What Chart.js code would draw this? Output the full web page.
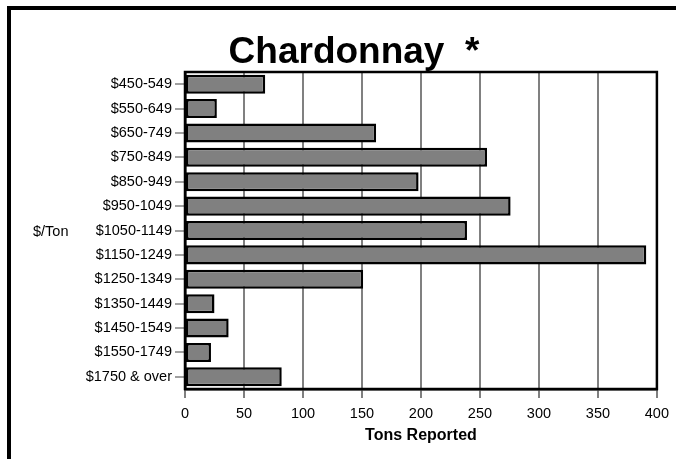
<!DOCTYPE html>
<html>
<head>
<meta charset="utf-8">
<script src="https://cdn.jsdelivr.net/npm/chart.js@4.4.1/dist/chart.umd.min.js"></script>
<style>
  html, body { margin: 0; padding: 0; background: #fff; overflow: hidden; }
  #frame { position: absolute; left: 7px; top: 6px; width: 800px; height: 600px;
           border-left: 4px solid #000; border-top: 4px solid #000; }
  #wrap { position: absolute; left: 0; top: 0; width: 676px; height: 459px; }
</style>
</head>
<body>
<div id="frame"></div>
<div id="wrap"><canvas id="c" width="676" height="459"></canvas></div>
<script>
const chartTitle = "Chardonnay  *";
const yAxisTitle = "$/Ton";
const xAxisTitle = "Tons Reported";
const categories = ["$450-549", "$550-649", "$650-749", "$750-849", "$850-949", "$950-1049",
  "$1050-1149", "$1150-1249", "$1250-1349", "$1350-1449", "$1450-1549", "$1550-1749", "$1750 & over"];
const tonsReported = [68, 27, 162, 256, 198, 276, 239, 391, 151, 25, 37, 22, 82];
const xTicks = [0, 50, 100, 150, 200, 250, 300, 350, 400];

const FONT = "'Liberation Sans', Arial, sans-serif";

const decor = {
  id: 'decor',
  afterDatasetsDraw(chart) {
    const {ctx, chartArea: a} = chart;
    ctx.save();
    ctx.strokeStyle = '#000';
    ctx.lineWidth = 2.5;
    ctx.strokeRect(a.left, a.top, a.right - a.left, a.bottom - a.top);
    ctx.restore();
  },
  afterDraw(chart) {
    const {ctx, chartArea: a} = chart;
    ctx.save();
    ctx.fillStyle = '#000';
    ctx.font = "bold 37px " + FONT;
    ctx.textAlign = 'center';
    ctx.textBaseline = 'alphabetic';
    ctx.fillText(chartTitle, 354, 62.5);
    ctx.font = "14.5px " + FONT;
    ctx.textAlign = 'left';
    ctx.textBaseline = 'middle';
    ctx.fillText(yAxisTitle, 33, (a.top + a.bottom) / 2 + 1);
    ctx.restore();
  }
};

new Chart(document.getElementById('c'), {
  type: 'bar',
  data: {
    labels: categories,
    datasets: [{
      data: tonsReported,
      backgroundColor: '#808080',
      borderColor: '#000',
      borderWidth: 2.5,
      borderSkipped: false,
      categoryPercentage: 1.0,
      barPercentage: 0.78
    }]
  },
  options: {
    indexAxis: 'y',
    responsive: false,
    animation: false,
    layout: { padding: { top: 72, right: 19, left: 0, bottom: 0 } },
    plugins: { legend: { display: false }, tooltip: { enabled: false }, title: { display: false } },
    scales: {
      x: {
        type: 'linear',
        min: 0, max: 400,
        afterBuildTicks(scale) { scale.ticks = xTicks.map(v => ({value: v})); },
        afterFit(scale) { scale.height = 70; },
        grid: { color: '#808080', lineWidth: 2, tickLength: 9, drawTicks: true },
        border: { color: '#000', width: 2.5 },
        ticks: { color: '#000', font: { family: FONT, size: 14.5 }, padding: 7, maxRotation: 0 },
        title: { display: true, text: xAxisTitle, color: '#000',
                 font: { family: FONT, size: 16, weight: 'bold' }, padding: { top: 2, bottom: 14 } }
      },
      y: {
        type: 'category',
        afterFit(scale) { scale.width = 185; },
        grid: { display: true, drawOnChartArea: false, color: '#a0a0a0', lineWidth: 2, tickLength: 10, offset: false },
        border: { color: '#000', width: 2.5 },
        ticks: { color: '#000', font: { family: FONT, size: 14.5 }, padding: 3, autoSkip: false }
      }
    }
  },
  plugins: [decor]
});
</script>
</body>
</html>
